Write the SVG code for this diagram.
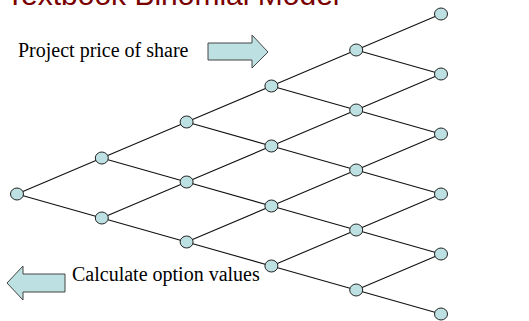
<svg xmlns="http://www.w3.org/2000/svg" width="529" height="321" viewBox="0 0 529 321">
<style>
.n{fill:#bde0e2;stroke:#222;stroke-width:1}
.e{stroke:#111;stroke-width:1.1;fill:none}
.lbl{font-family:"Liberation Serif","Times New Roman",serif;font-size:20px;fill:#000}
.ttl{font-family:"Liberation Sans",Arial,sans-serif;font-size:30px;fill:#7a0000}
.arr{fill:#bde0e2;stroke:#444;stroke-width:1}
</style>
<rect width="529" height="321" fill="#fff"/>
<text class="ttl" x="6" y="5">Textbook Binomial Model</text>
<g id="label-project"><text class="lbl" x="18" y="57">Project price of share</text></g>
<g id="arrow-right"><polygon class="arr" points="208,43 252,43 252,35 268,52 252,68 252,60 208,60"/></g>
<g id="label-calc"><text class="lbl" x="72" y="281">Calculate option values</text></g>
<g id="arrow-left"><polygon class="arr" points="7,283 23,266 23,274 65,274 65,292 23,292 23,300"/></g>
<g id="connectors">
<path class="e" d="M17,194L101.8,158M17,194L101.8,218
M101.8,158L186.6,122M101.8,158L186.6,182M101.8,218L186.6,182M101.8,218L186.6,242
M186.6,122L271.4,86M186.6,122L271.4,146M186.6,182L271.4,146M186.6,182L271.4,206M186.6,242L271.4,206M186.6,242L271.4,266
M271.4,86L356.2,50M271.4,86L356.2,110M271.4,146L356.2,110M271.4,146L356.2,170M271.4,206L356.2,170M271.4,206L356.2,230M271.4,266L356.2,230M271.4,266L356.2,290
M356.2,50L441,14M356.2,50L441,74M356.2,110L441,74M356.2,110L441,134M356.2,170L441,134M356.2,170L441,194M356.2,230L441,194M356.2,230L441,254M356.2,290L441,254M356.2,290L441,314"/>
</g>
<g id="n0-0"><ellipse class="n" cx="17" cy="194" rx="6.5" ry="6"/></g>
<g id="n1-0"><ellipse class="n" cx="101.8" cy="158" rx="6.5" ry="6"/></g>
<g id="n1-1"><ellipse class="n" cx="101.8" cy="218" rx="6.5" ry="6"/></g>
<g id="n2-0"><ellipse class="n" cx="186.6" cy="122" rx="6.5" ry="6"/></g>
<g id="n2-1"><ellipse class="n" cx="186.6" cy="182" rx="6.5" ry="6"/></g>
<g id="n2-2"><ellipse class="n" cx="186.6" cy="242" rx="6.5" ry="6"/></g>
<g id="n3-0"><ellipse class="n" cx="271.4" cy="86" rx="6.5" ry="6"/></g>
<g id="n3-1"><ellipse class="n" cx="271.4" cy="146" rx="6.5" ry="6"/></g>
<g id="n3-2"><ellipse class="n" cx="271.4" cy="206" rx="6.5" ry="6"/></g>
<g id="n3-3"><ellipse class="n" cx="271.4" cy="266" rx="6.5" ry="6"/></g>
<g id="n4-0"><ellipse class="n" cx="356.2" cy="50" rx="6.5" ry="6"/></g>
<g id="n4-1"><ellipse class="n" cx="356.2" cy="110" rx="6.5" ry="6"/></g>
<g id="n4-2"><ellipse class="n" cx="356.2" cy="170" rx="6.5" ry="6"/></g>
<g id="n4-3"><ellipse class="n" cx="356.2" cy="230" rx="6.5" ry="6"/></g>
<g id="n4-4"><ellipse class="n" cx="356.2" cy="290" rx="6.5" ry="6"/></g>
<g id="n5-0"><ellipse class="n" cx="441" cy="14" rx="6.5" ry="6"/></g>
<g id="n5-1"><ellipse class="n" cx="441" cy="74" rx="6.5" ry="6"/></g>
<g id="n5-2"><ellipse class="n" cx="441" cy="134" rx="6.5" ry="6"/></g>
<g id="n5-3"><ellipse class="n" cx="441" cy="194" rx="6.5" ry="6"/></g>
<g id="n5-4"><ellipse class="n" cx="441" cy="254" rx="6.5" ry="6"/></g>
<g id="n5-5"><ellipse class="n" cx="441" cy="314" rx="6.5" ry="6"/></g>
</svg>
